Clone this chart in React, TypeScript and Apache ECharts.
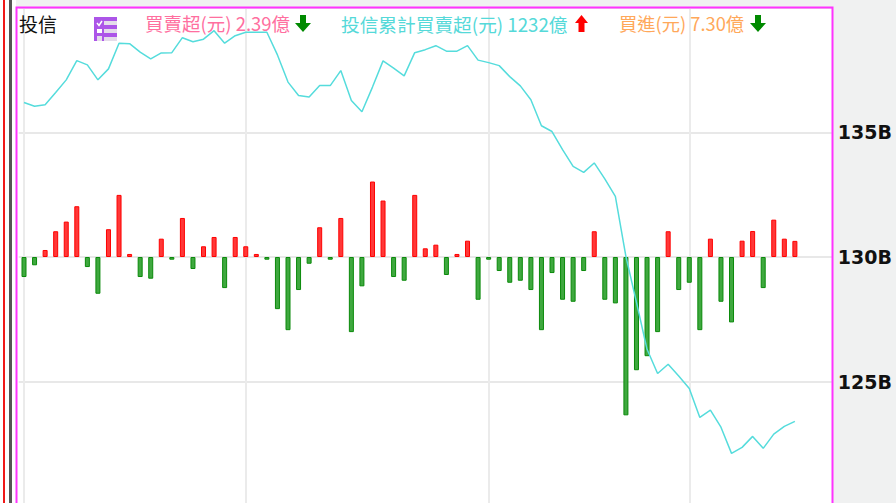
import React, { useEffect, useRef } from "react";
import * as echarts from "echarts";

const TITLE = "投信";
const LEGEND_BUY_SELL = "買賣超(元) 2.39億";
const LEGEND_CUMULATIVE = "投信累計買賣超(元) 1232億";
const LEGEND_BUY = "買進(元) 7.30億";
const Y_TICK_LABELS: Record<number, string> = { 125: "125B", 130: "130B", 135: "135B" };
const MONTH_START_INDEXES = [0, 21, 44, 63];
const SLOT_COUNT = 77;

const categories = Array.from({ length: SLOT_COUNT }, (_, i) => String(i));

// 投信買賣超 (億)
const netBuy = [
  -2.97, -1.23, 1.04, 3.82, 5.25, 7.53, -1.49, -5.45, 4.12, 9.21,
  0.45, -2.97, -3.22, 2.72, -0.4, 5.79, -1.78, 1.59, 2.97, -4.61,
  2.97, 1.59, 0.45, -0.4, -7.73, -10.85, -4.9, -1.0, 4.41, -0.4,
  5.79, -11.14, -4.35, 11.19, 8.37, -2.97, -3.52, 9.21, 1.29, 1.83,
  -2.67, 0.45, 2.42, -6.34, -0.4, -2.08, -3.82, -3.52, -4.9, -10.85,
  -2.38, -6.34, -6.64, -2.08, 3.82, -6.34, -6.88, -23.48, -16.79, -14.71,
  -11.14, 3.82, -4.9, -3.82, -10.85, 2.72, -6.64, -9.7, 2.42, 3.86,
  -4.61, 5.54, 2.72, 2.39,
];

// 投信累計買賣超 (B)
const cumulative = [
  136.19, 136.04, 136.1, 136.59, 137.1, 137.87, 137.7, 137.1, 137.54, 138.57,
  138.55, 138.21, 137.94, 138.18, 138.19, 138.79, 138.63, 138.73, 139.07, 138.57,
  138.87, 139.01, 139.01, 139.01, 138.1, 137.01, 136.47, 136.41, 136.87, 136.87,
  137.47, 136.27, 135.82, 136.81, 137.86, 137.57, 137.26, 138.19, 138.31, 138.47,
  138.25, 138.25, 138.47, 137.89, 137.79, 137.67, 137.23, 136.86, 136.3, 135.26,
  135.03, 134.3, 133.63, 133.39, 133.77, 133.13, 132.43, 130.02, 128.18, 126.3,
  125.33, 125.7, 125.23, 124.73, 123.57, 123.86, 123.18, 122.13, 122.37, 122.81,
  122.33, 122.9, 123.21, 123.41,
];

const PINK = "#ff33ff";
const FONT = '"Noto Sans CJK TC", sans-serif';

const downArrow = (x: number, color: string) => ({
  type: "polygon",
  z: 12,
  shape: {
    points: [
      [x + 4, 15], [x + 10, 15], [x + 10, 23], [x + 15, 23], [x + 7, 32], [x - 1, 23], [x + 4, 23],
    ],
  },
  style: { fill: color },
});

const upArrow = (x: number, color: string) => ({
  type: "polygon",
  z: 12,
  shape: {
    points: [
      [x + 3.5, 32], [x + 9.5, 32], [x + 9.5, 23], [x + 13, 23], [x + 6.5, 15], [x, 23], [x + 3.5, 23],
    ],
  },
  style: { fill: color },
});

const legendText = (x: number, text: string, fill: string, size = 18) => ({
  type: "text",
  z: 12,
  style: { x, y: 23, text, fill, font: `${size}px ${FONT}`, verticalAlign: "middle", align: "left" },
});

const rect = (x: number, y: number, width: number, height: number, fill: string) => ({
  type: "rect",
  z: 12,
  shape: { x, y, width, height },
  style: { fill },
});

export default function App() {
  const ref = useRef<HTMLDivElement>(null);
  useEffect(() => {
    document.body.style.margin = "0";
    const chart = echarts.init(ref.current!, undefined, { renderer: "svg" });
    chart.setOption({
      animation: false,
      backgroundColor: "#f0f1f1",
      grid: { left: 18.72, top: 7.5, width: 813.12, height: 499, outerBoundsMode: "none" },
      xAxis: {
        type: "category",
        data: categories,
        boundaryGap: true,
        axisLine: { show: false },
        axisTick: { show: false },
        axisLabel: { show: false },
        splitLine: {
          show: true,
          alignWithLabel: true,
          interval: (i: number) => MONTH_START_INDEXES.includes(i),
          lineStyle: { color: "#ebebeb", width: 2 },
        },
      },
      yAxis: [
        {
          type: "value",
          position: "right",
          min: 120,
          max: 140,
          interval: 5,
          axisLine: { show: false },
          axisTick: { show: false },
          axisLabel: {
            margin: 6,
            color: "#111",
            fontFamily: "DejaVu Sans",
            fontWeight: "bold",
            fontSize: 19,
            formatter: (v: number) => Y_TICK_LABELS[v] ?? "",
          },
          splitLine: { show: true, lineStyle: { color: "#e8e8e8", width: 2 } },
        },
        { type: "value", show: false, min: -37, max: 37, splitLine: { show: false } },
      ],
      series: [
        {
          type: "bar",
          yAxisIndex: 1,
          barWidth: 5,
          data: netBuy.map((v) => ({
            value: v,
            itemStyle:
              v >= 0
                ? { color: "#ff3838", borderColor: "#ff0000", borderWidth: 1 }
                : { color: "#3fa83f", borderColor: "#0a8a0a", borderWidth: 1 },
          })),
        },
        {
          type: "line",
          yAxisIndex: 0,
          data: cumulative,
          symbol: "none",
          lineStyle: { color: "#55dcdc", width: 1.5 },
        },
      ],
      graphic: [
        { type: "rect", z: -1, shape: { x: 17, y: 8, width: 815, height: 500 }, style: { fill: "#fff" } },
        { type: "rect", z: -1, shape: { x: 0, y: 0, width: 16, height: 503 }, style: { fill: "#fff" } },
        { type: "rect", z: 11, shape: { x: 3, y: 0, width: 2, height: 503 }, style: { fill: "#f01818" } },
        { type: "rect", z: 11, shape: { x: 9, y: 0, width: 3, height: 503 }, style: { fill: "#555555" } },
        {
          type: "rect",
          z: 11,
          shape: { x: 16.5, y: 7.5, width: 816, height: 510 },
          style: { fill: "none", stroke: PINK, lineWidth: 2 },
        },
        legendText(19, TITLE, "#111111", 19),
        legendText(145, LEGEND_BUY_SELL, "#ff6f9f", 18.5),
        legendText(341, LEGEND_CUMULATIVE, "#55d9d9", 18.7),
        legendText(619, LEGEND_BUY, "#ffa85a", 18.3),
        downArrow(296, "#008a00"),
        upArrow(575, "#ff0000"),
        downArrow(751, "#008a00"),
        rect(94, 17, 23, 24, "#ac55e8"),
        rect(104, 21, 13, 4, "#e4dcea"),
        rect(104, 29, 13, 4, "#e4dcea"),
        rect(104, 37, 13, 4, "#e4dcea"),
        rect(97, 29, 5, 4, "#ffffff"),
        rect(97, 36, 5, 5, "#e4dcea"),
        {
          type: "polyline",
          z: 13,
          shape: { points: [[97, 23], [99, 25.5], [102, 21]] },
          style: { stroke: "#ffffff", lineWidth: 1.5, fill: "none" },
        },
      ],
    });
    return () => chart.dispose();
  }, []);
  return <div ref={ref} style={{ position: "fixed", left: 0, top: 0, width: 896, height: 503 }} />;
}
